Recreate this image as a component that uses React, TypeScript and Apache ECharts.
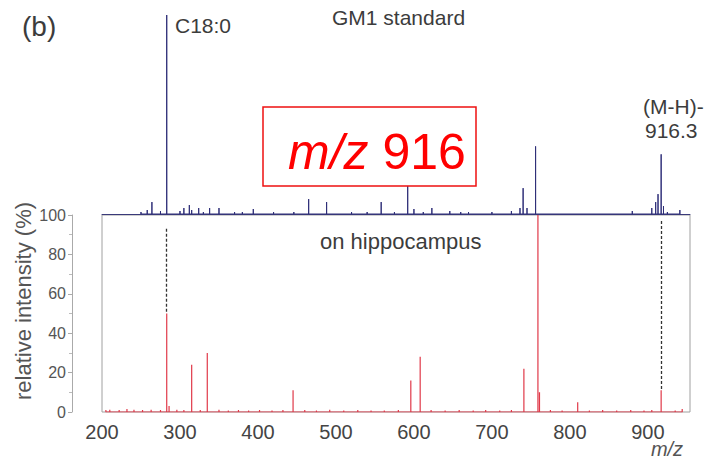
import React, { useEffect, useRef } from "react";
import * as echarts from "echarts";

// GM1 standard spectrum (top, blue): [m/z, relative intensity]
const standardPeaks: [number, number][] = [
  [250, 1], [258, 2], [264, 6], [275, 1.5], [283, 100], [300, 1.5], [305, 3],
  [312, 4.5], [315, 2], [324, 3], [330, 1], [338, 3], [350, 3], [370, 1],
  [380, 1], [394, 2.5], [420, 1], [446, 1], [465, 7.5], [488, 6], [520, 1],
  [540, 1], [558, 6], [575, 1], [592, 20], [600, 2.5], [612, 1], [623, 3],
  [646, 1.5], [660, 1], [670, 1], [700, 1], [725, 1.5], [736, 3], [740, 13],
  [745, 3], [756, 34], [880, 1.5], [905, 3], [910, 6], [913, 10], [917, 30],
  [920, 4], [925, 1], [941, 2],
];

// on hippocampus spectrum (bottom, red): [m/z, relative intensity]
const tissuePeaks: [number, number][] = [
  [205, 1], [210, 1.2], [222, 1], [232, 1.5], [241, 1.2], [252, 1],
  [263, 1.2], [275, 1], [283, 50], [286, 3], [296, 1.2], [305, 1], [315, 24],
  [326, 1], [335, 30], [350, 1.2], [362, 0.8], [375, 1], [388, 0.8], [402, 1],
  [418, 0.8], [432, 1], [445, 11], [460, 1], [475, 0.8], [492, 1.2], [510, 0.8],
  [528, 1], [545, 0.8], [562, 0.8], [580, 1], [596, 16], [608, 28],
  [622, 1], [640, 0.8], [658, 1], [676, 0.8], [692, 1], [710, 0.8],
  [725, 1], [741, 22], [759, 100], [761, 10], [775, 1], [790, 0.8],
  [810, 5], [825, 0.8], [842, 1], [860, 0.8], [878, 1], [895, 0.8], [905, 1],
  [917, 11], [935, 0.8], [944, 1.5],
];

// dashed guide lines: [m/z, top of guide, bottom of guide]
const guides: [number, number, number][] = [
  [283, 93, 50],
  [917, 97, 11],
];

const xTickInterval = 100;
const xMin = 200;
const xMax = 954;
const yTicks = [0, 20, 40, 60, 80, 100];

function sticks(peaks: [number, number][]): [number, number][] {
  const out: [number, number][] = [];
  for (const [mz, h] of peaks) {
    out.push([mz, 0], [mz, h], [mz, 0]);
  }
  return out;
}

const FONT = "Liberation Sans, Arial, Helvetica, sans-serif";
const TXT = "#3c3c3c";

export default function App() {
  const ref = useRef<HTMLDivElement>(null);
  useEffect(() => {
    if (!ref.current) return;
    const chart = echarts.init(ref.current, null, { renderer: "svg" });
    chart.setOption({
      animation: false,
      textStyle: { fontFamily: FONT },
      grid: [
        { left: 102, right: 22, top: 15, height: 199, show: false },
        {
          left: 102, right: 22, top: 215, height: 197, show: true,
          borderColor: "#a0a0a0", borderWidth: 1,
        },
      ],
      xAxis: [
        {
          type: "value", gridIndex: 0, min: xMin, max: xMax, interval: xTickInterval,
          axisLine: { show: true, onZero: false, lineStyle: { color: "#3a3a7a", width: 1 } },
          axisTick: { show: false }, axisLabel: { show: false }, splitLine: { show: false },
        },
        {
          type: "value", gridIndex: 1, min: xMin, max: xMax, interval: xTickInterval,
          axisLine: { show: false }, axisTick: { show: false }, splitLine: { show: false },
          axisLabel: {
            show: true, fontSize: 20, color: "#444", margin: 10, fontFamily: FONT,
            showMaxLabel: false,
          },
        },
      ],
      yAxis: [
        {
          type: "value", gridIndex: 0, min: 0, max: 100, show: false,
          splitLine: { show: false },
        },
        {
          type: "value", gridIndex: 1, min: yTicks[0], max: yTicks[yTicks.length - 1],
          interval: 20, offset: 30,
          axisLine: { show: true, lineStyle: { color: "#aaaaaa" } },
          axisTick: { show: true, length: 4, lineStyle: { color: "#aaaaaa" } },
          minorTick: { show: true, splitNumber: 2, length: 3, lineStyle: { color: "#bbbbbb" } },
          axisLabel: { fontSize: 16, color: "#555", margin: 6, fontFamily: FONT },
          splitLine: { show: false },
        },
      ],
      series: [
        {
          type: "line", xAxisIndex: 0, yAxisIndex: 0, data: sticks(standardPeaks),
          symbol: "none", silent: true,
          lineStyle: { color: "#2e2e78", width: 1 },
        },
        {
          type: "line", xAxisIndex: 1, yAxisIndex: 1, data: sticks(tissuePeaks),
          symbol: "none", silent: true,
          lineStyle: { color: "#e03848", width: 1.2 },
          markLine: {
            silent: true, symbol: ["none", "none"], label: { show: false },
            lineStyle: { type: [3, 2], color: "#333", width: 1.3 },
            data: guides.map(([mz, top, bottom]) => [
              { coord: [mz, top] },
              { coord: [mz, bottom] },
            ]),
          },
        },
      ],
      graphic: [
        {
          type: "text", left: 22, top: 12, z: 100,
          style: { text: "(b)", font: `28px ${FONT}`, fill: TXT },
        },
        {
          type: "text", x: 175, y: 25, z: 100,
          style: { text: "C18:0", font: `21px ${FONT}`, fill: TXT, verticalAlign: "middle" },
        },
        {
          type: "text", x: 332, y: 17, z: 100,
          style: { text: "GM1 standard", font: `21px ${FONT}`, fill: TXT, verticalAlign: "middle" },
        },
        {
          type: "text", x: 643, y: 106, z: 100,
          style: { text: "(M-H)-", font: `21px ${FONT}`, fill: TXT, verticalAlign: "middle" },
        },
        {
          type: "text", x: 645, y: 130, z: 100,
          style: { text: "916.3", font: `21px ${FONT}`, fill: TXT, verticalAlign: "middle" },
        },
        {
          type: "rect", z: 100,
          shape: { x: 263, y: 107, width: 213, height: 79 },
          style: { fill: "#ffffff", stroke: "#ee1111", lineWidth: 1.5 },
        },
        {
          type: "text", x: 288, y: 152, z: 101,
          style: {
            text: "{a|m/z} {b|916}",
            verticalAlign: "middle",
            rich: {
              a: { fontSize: 50, fontStyle: "italic", fill: "#ff0000", fontFamily: FONT },
              b: { fontSize: 50, fill: "#ff0000", fontFamily: FONT },
            },
            font: `50px ${FONT}`, fill: "#ff0000",
          },
        },
        {
          type: "text", x: 320, y: 241, z: 100,
          style: { text: "on hippocampus", font: `22px ${FONT}`, fill: TXT, verticalAlign: "middle" },
        },
        {
          type: "text", x: 667, y: 449, z: 100,
          style: {
            text: "m/z", font: `italic 20px ${FONT}`, fill: "#555",
            align: "center", verticalAlign: "middle",
          },
        },
        {
          type: "text", x: 23, y: 301, rotation: Math.PI / 2, z: 100,
          style: {
            text: "relative intensity (%)", font: `22px ${FONT}`, fill: "#555",
            align: "center", verticalAlign: "middle",
          },
        },
      ],
    });
    return () => chart.dispose();
  }, []);
  return (
    <div
      ref={ref}
      style={{ position: "fixed", left: 0, top: 0, width: 712, height: 462, background: "#fff" }}
    />
  );
}
